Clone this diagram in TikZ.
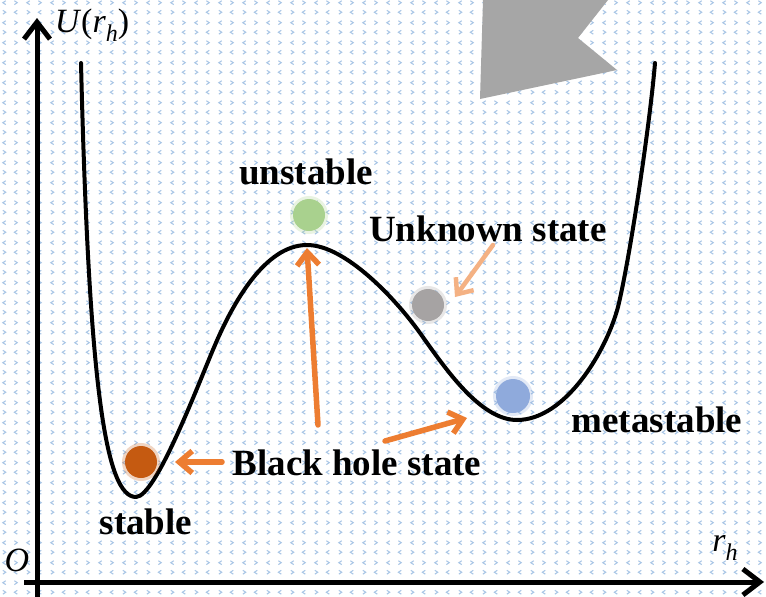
\documentclass[tikz,border=0pt]{standalone}
\usepackage{fontspec}
\setmainfont{Liberation Serif}
\usetikzlibrary{arrows.meta,patterns.meta}
\definecolor{patblue}{HTML}{A9C6E6}
\definecolor{arrorange}{HTML}{ED7D31}
\definecolor{arrlight}{HTML}{F4B183}
\definecolor{ballorange}{HTML}{C55A11}
\definecolor{ballgreen}{HTML}{A9D18E}
\definecolor{ballgray}{HTML}{A6A3A3}
\definecolor{ballblue}{HTML}{8FAADC}
\definecolor{flaggray}{HTML}{A6A6A6}
\newcommand{\subh}[1]{\raisebox{-9pt}{\fontsize{24}{24}\selectfont\itshape #1}}
\tikzdeclarepattern{
  name=chevrons, type=uncolored,
  bounding box={(0pt,0pt) and (24pt,20pt)},
  tile size={(24pt,20pt)},
  code={
    \draw[line width=1.1pt] (4pt,3pt) -- (7pt,5pt) -- (4pt,7pt)
      (19pt,3pt) -- (16pt,5pt) -- (19pt,7pt)
      (7pt,13pt) -- (4pt,15pt) -- (7pt,17pt)
      (16pt,13pt) -- (19pt,15pt) -- (16pt,17pt);
  }}
\tikzset{
  axis/.style  = {-{Straight Barb[length=17pt,width=26pt]}, line width=5pt},
  curve/.style = {line width=4pt, line cap=round, line join=round},
  ptr/.style   = {-{Straight Barb[length=13pt,width=22pt]}, line width=5.5pt,
                  draw=arrorange, line cap=round},
  ball/.style  = {circle, inner sep=0pt, minimum size=32pt, line width=6pt,
                  draw opacity=0.25},
  lbl/.style   = {font=\fontsize{37}{40}\selectfont\bfseries, inner sep=0pt},
  mlbl/.style  = {font=\fontsize{34}{38}\selectfont, inner sep=0pt},
}
\begin{document}
\begin{tikzpicture}[x=1pt,y=-1pt]
  \useasboundingbox (0,0) rectangle (766,597);
  \fill[white] (0,0) rectangle (766,597);
  \fill[pattern=chevrons, pattern color=patblue] (0,0) rectangle (766,597);
  % grey flag in the corner
  \fill[flaggray] (483,0) -- (608,0) -- (578,38) -- (617,70) -- (480,99) -- cycle;
  % axes
  \coordinate (ybot) at (37,597);
  \coordinate (ytop) at (37,18);
  \coordinate (xleft) at (24,582);
  \coordinate (xright) at (764,582);
  \draw[axis] (ybot) -- (ytop);
  \draw[axis] (xleft) -- (xright);
  \node[mlbl] (ulab) at (92,25) {\textit{U}(\textit{r}\subh{h})};
  \node[mlbl] (olab) at (17,560) {\textit{O}};
  \node[mlbl] (rlab) at (725,548) {\textit{r}\subh{h}};
  % potential
  \draw[curve] (81,63) .. controls (89,390) and (106,497) .. (136,497)
    .. controls (156,497) and (199,382) .. (215,345)
    .. controls (233,303) and (265,245) .. (307,245)
    .. controls (345,245) and (395,298) .. (420,333)
    .. controls (445,368) and (480,420) .. (517,420)
    .. controls (565,420) and (606,352) .. (618,307)
    .. controls (630,258) and (650,123) .. (655,63);
  % states
  \node[ball, fill=ballorange, draw=ballorange] (sball) at (141,462) {};
  \node[ball, fill=ballgreen, draw=ballgreen] (uball) at (309,215) {};
  \node[ball, fill=ballgray, draw=ballgray] (kball) at (428,305) {};
  \node[ball, fill=ballblue, draw=ballblue, minimum size=34pt] (mball) at (513,396) {};
  \node[lbl] (unst) at (306,172) {unstable};
  \node[lbl] (unk) at (488,229) {Unknown state};
  \node[lbl] (meta) at (657,420) {metastable};
  \node[lbl] (bhs) at (357,463) {Black hole state};
  \node[lbl] (stab) at (146,522) {stable};
  % pointers
  \coordinate (p1s) at (222,462);
  \coordinate (p1e) at (175,462);
  \coordinate (p2s) at (318,425);
  \coordinate (p2e) at (307,248);
  \coordinate (p3s) at (385,441);
  \coordinate (p3e) at (467,418);
  \coordinate (p4s) at (493,245);
  \coordinate (p4e) at (455,297);
  \draw[ptr] (p1s) -- (p1e);
  \draw[ptr] (p2s) -- (p2e);
  \draw[ptr] (p3s) -- (p3e);
  \draw[ptr, draw=arrlight, line width=4.5pt] (p4s) -- (p4e);
\end{tikzpicture}
\end{document}
